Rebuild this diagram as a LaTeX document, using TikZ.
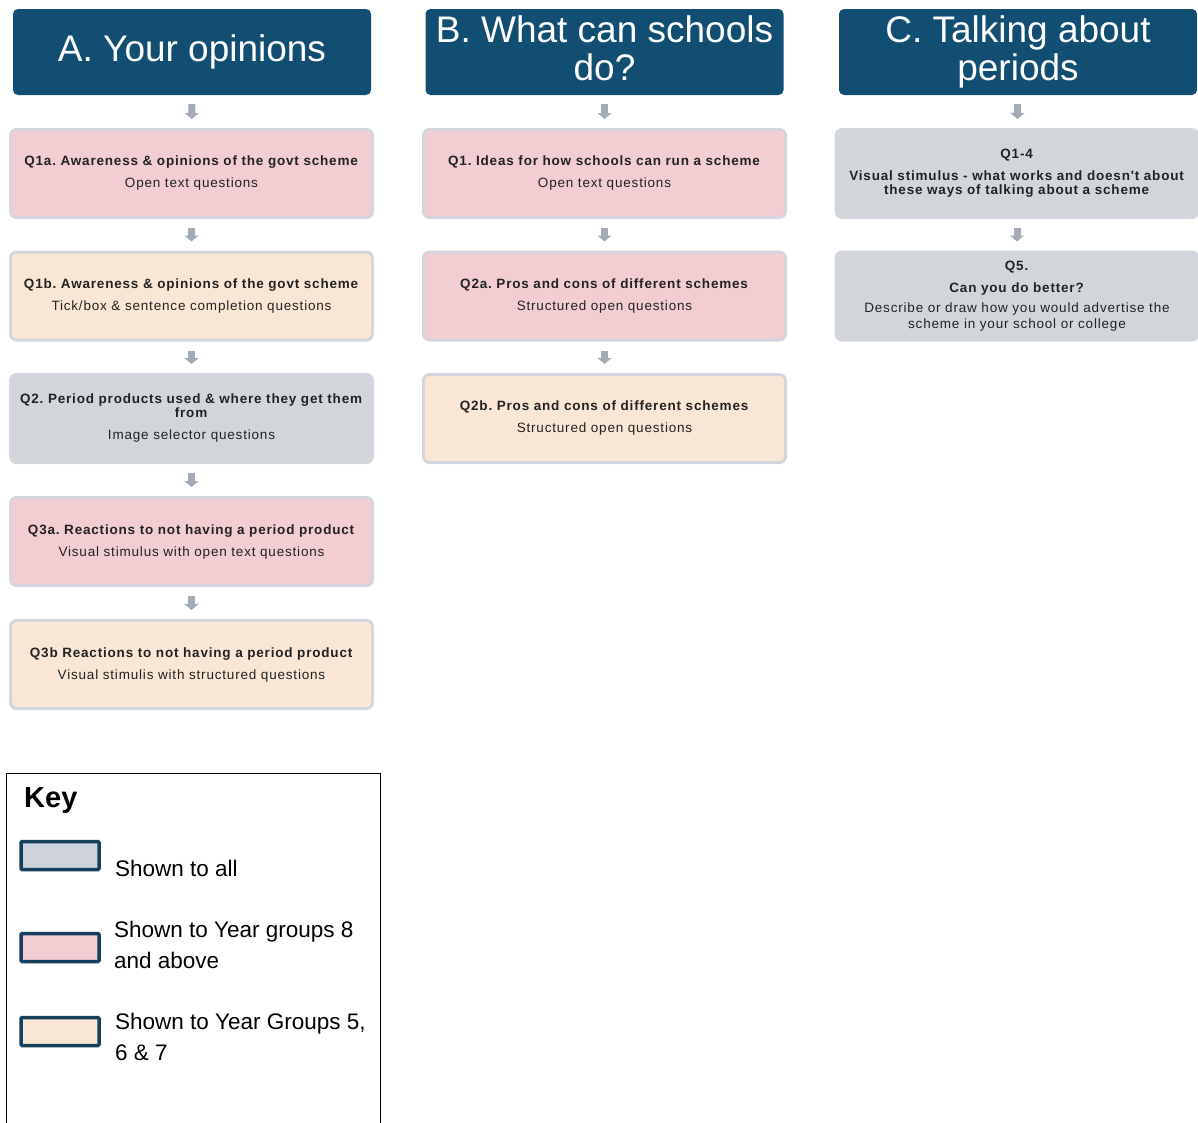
\documentclass[tikz,border=0pt]{standalone}
\usepackage{fontspec}
\setmainfont{Liberation Sans}
\newfontfamily\qfamily[LetterSpace=6]{Liberation Sans}
\usetikzlibrary{arrows.meta}

\definecolor{headblue}{HTML}{124E72}
\definecolor{qpink}{HTML}{F2CED2}
\definecolor{qpeach}{HTML}{FAE6D4}
\definecolor{qgrey}{HTML}{D2D6DB}
\definecolor{boxline}{HTML}{D3D6DC}
\definecolor{arrowgrey}{HTML}{A3ABB7}
\definecolor{keygrey}{HTML}{CDD2DC}
\definecolor{keynavy}{HTML}{163F5C}
\definecolor{qtext}{HTML}{222222}

\tikzset{
  header/.style={rectangle, rounded corners=5pt, fill=headblue, text=white,
    minimum width=358pt, minimum height=86pt, align=center, inner sep=0pt,
    font=\fontsize{37}{38}\selectfont},
  qbox/.style={rectangle, rounded corners=6pt, draw=boxline, line width=3pt,
    minimum width=362pt, minimum height=88pt, align=center, inner sep=2pt,
    text=qtext, font=\qfamily\fontsize{13.5}{14}\selectfont},
  pinkbox/.style={qbox, fill=qpink},
  peachbox/.style={qbox, fill=qpeach},
  greybox/.style={qbox, fill=qgrey},
  flowarrow/.style={draw=arrowgrey, line width=7pt,
    -{Triangle[width=14pt,length=6pt]}, shorten <=9pt, shorten >=9pt},
  swatch/.style={rectangle, rounded corners=1pt, draw=keynavy, line width=3.5pt,
    minimum width=78pt, minimum height=28pt, inner sep=0pt},
  keytext/.style={anchor=west, align=left, inner sep=0pt,
    font=\fontsize{22.5}{31}\selectfont}
}

\begin{document}
\frenchspacing
\begin{tikzpicture}[x=1pt, y=-1pt]
\useasboundingbox (0,0) rectangle (1198,1122);

% column headers
\node[header] (hA) at (192,52) {A. Your opinions};
\node[header, text depth=8pt] (hB) at (604.5,52) {B. What can schools\\do?};
\node[header] (hC) at (1018,52) {C. Talking about\\periods};

% A. Your opinions
\node[pinkbox] (q1a) at (191.5,173.5)
  {\textbf{Q1a. Awareness \& opinions of the govt scheme}\\[8pt]Open text questions};
\node[peachbox] (q1b) at (191.5,296)
  {\textbf{Q1b. Awareness \& opinions of the govt scheme}\\[8pt]Tick/box \& sentence completion questions};
\node[greybox] (q2) at (191.5,418.5)
  {\textbf{Q2. Period products used \& where they get them}\\\textbf{from}\\[8pt]Image selector questions};
\node[pinkbox] (q3a) at (191.5,541.5)
  {\textbf{Q3a. Reactions to not having a period product}\\[8pt]Visual stimulus with open text questions};
\node[peachbox] (q3b) at (191.5,664.5)
  {\textbf{Q3b Reactions to not having a period product}\\[8pt]Visual stimulis with structured questions};

% B. What can schools do?
\node[pinkbox] (bq1) at (604.5,173.5)
  {\textbf{Q1. Ideas for how schools can run a scheme}\\[8pt]Open text questions};
\node[pinkbox] (bq2a) at (604.5,296)
  {\textbf{Q2a. Pros and cons of different schemes}\\[8pt]Structured open questions};
\node[peachbox] (bq2b) at (604.5,418.5)
  {\textbf{Q2b. Pros and cons of different schemes}\\[8pt]Structured open questions};

% C. Talking about periods
\node[greybox] (cq14) at (1017,173.5)
  {\textbf{Q1-4}\\[8pt]\textbf{Visual stimulus - what works and doesn't about}\\\textbf{these ways of talking about a scheme}};
\node[greybox] (cq5) at (1017,296)
  {\textbf{Q5.}\\[8pt]\textbf{Can you do better?}\\[6pt]Describe or draw how you would advertise the\\[2pt]scheme in your school or college};

% arrows
\draw[flowarrow] (hA) -- (q1a);
\draw[flowarrow] (q1a) -- (q1b);
\draw[flowarrow] (q1b) -- (q2);
\draw[flowarrow] (q2) -- (q3a);
\draw[flowarrow] (q3a) -- (q3b);
\draw[flowarrow] (hB) -- (bq1);
\draw[flowarrow] (bq1) -- (bq2a);
\draw[flowarrow] (bq2a) -- (bq2b);
\draw[flowarrow] (hC) -- (cq14);
\draw[flowarrow] (cq14) -- (cq5);

% key
\node[draw=black, line width=1pt, minimum width=374pt, minimum height=360pt,
  inner sep=0pt] (keybox) at (193,953) {};
\node[anchor=west, inner sep=0pt, font=\bfseries\fontsize{29}{29}\selectfont]
  (keytitle) at (24,801) {Key};
\node[swatch, fill=keygrey] (swall) at (60,855.5) {};
\node[swatch, fill=qpink] (swpink) at (60,947.5) {};
\node[swatch, fill=qpeach] (swpeach) at (60,1031.5) {};
\node[keytext] (txall) at (115,868) {Shown to all};
\node[keytext] (txpink) at (114,945) {Shown to Year groups 8\\and above};
\node[keytext] (txpeach) at (115,1037) {Shown to Year Groups 5,\\6 \& 7};
\end{tikzpicture}
\end{document}
